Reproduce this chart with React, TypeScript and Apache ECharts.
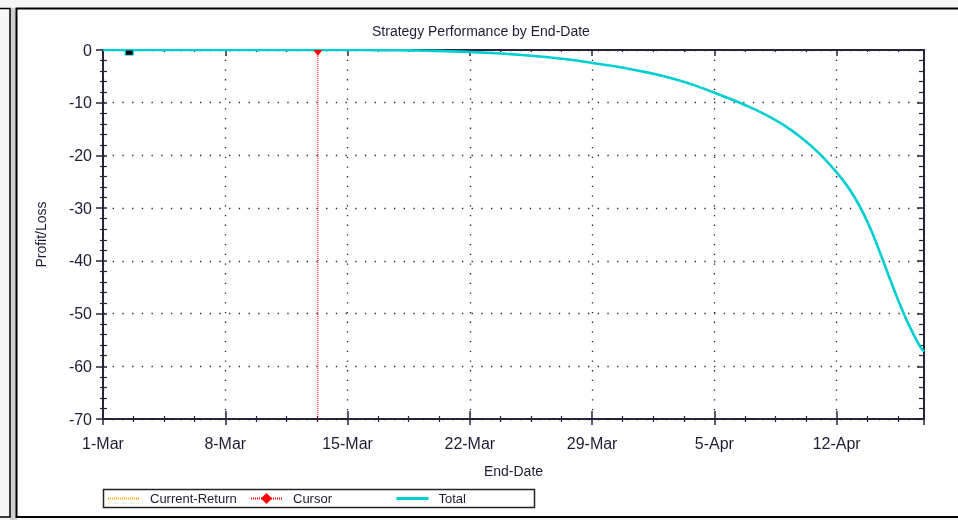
import React, { useEffect, useRef } from "react";
import * as echarts from "echarts";

// ---- data ----
const chartTitle = "Strategy Performance by End-Date";
const xTickLabels = ["1-Mar", "8-Mar", "15-Mar", "22-Mar", "29-Mar", "5-Apr", "12-Apr"];
// day offsets from 1-Mar
const totalDays = [0, 2, 4, 6, 8, 10, 12, 14, 15, 16, 17, 18, 19, 20, 21, 22, 23, 24, 25, 26, 27, 28, 29, 30, 31, 32, 33, 34, 35, 36, 37, 38, 39, 40, 41, 42, 42.5, 43, 43.5, 44, 44.5, 45, 45.5, 46, 46.5, 46.75, 47];
const totalValues = [0, 0, 0, 0, 0, 0, 0, 0, -0.01, -0.03, -0.06, -0.1, -0.17, -0.26, -0.38, -0.53, -0.72, -0.95, -1.22, -1.55, -1.95, -2.45, -2.95, -3.5, -4.15, -4.9, -5.8, -6.85, -8.1, -9.4, -10.8, -12.4, -14.3, -16.7, -19.6, -23.2, -25.3, -27.8, -30.8, -34.4, -38.6, -43.0, -47.3, -51.2, -54.6, -56.1, -57.2];
const cursorDay = [12.3, 12.3];
const cursorValues = [0, -70];
const currentReturnDays: number[] = [];
const currentReturnValues: number[] = [];
const markerDay = [1.5];
const markerValue = [-0.5];

const FONT = "'Liberation Sans', Arial, sans-serif";
const AX = "#24243a";
const TXT = "#1c1c34";

export default function App() {
  const ref = useRef<HTMLDivElement>(null);
  useEffect(() => {
    if (!ref.current) return;
    const chart = echarts.init(ref.current, null, { renderer: "svg" });
    const xBase = {
      type: "value",
      min: 0,
      max: 47,
      interval: 7,
      axisLine: { show: false, onZero: false, lineStyle: { color: AX, width: 2 } },
      axisLabel: { show: false },
      splitLine: { show: false },
      minorTick: { show: false, splitNumber: 4, lineStyle: { color: AX, width: 1.2 } },
      axisTick: { show: false, lineStyle: { color: AX, width: 1.5 } },
    };
    const yBase = {
      type: "value",
      min: -70,
      max: 0,
      interval: 10,
      axisLine: { show: false, onZero: false, lineStyle: { color: AX, width: 2 } },
      axisLabel: { show: false },
      splitLine: { show: false },
      minorTick: { show: false, splitNumber: 5, lineStyle: { color: AX, width: 1.2 } },
      axisTick: { show: false, lineStyle: { color: AX, width: 1.5 } },
    };
    const dotted = { color: "#222", width: 1.3, type: [1.3, 8.4] };
    const legendCommon = { top: 492, padding: 0, itemHeight: 14, textStyle: { fontSize: 13, color: TXT, padding: [0, 0, 0, 6] } };
    const option: any = {
      animation: false,
      textStyle: { fontFamily: FONT },
      title: {
        text: chartTitle,
        left: 367,
        top: 19,
        textStyle: { fontFamily: FONT, fontSize: 14, fontWeight: "normal", color: TXT },
      },
      grid: { left: 103, right: 34, top: 50, bottom: 101, containLabel: false },
      legend: [
        { ...legendCommon, data: ["Current-Return"], left: 107, itemWidth: 31, itemStyle: { opacity: 0 } },
        { ...legendCommon, data: ["Cursor"], left: 250, itemWidth: 31 },
        { ...legendCommon, data: ["Total"], left: 395, itemWidth: 32, itemStyle: { opacity: 0 }, lineStyle: { width: 3 }, textStyle: { fontSize: 13, color: TXT, padding: [0, 0, 0, 5] } },
      ],
      xAxis: [
        {
          ...xBase,
          position: "bottom",
          name: "End-Date",
          nameLocation: "middle",
          nameGap: 45,
          nameTextStyle: { fontSize: 14, color: TXT, fontFamily: FONT },
          axisLine: { show: true, onZero: false, lineStyle: { color: AX, width: 2 } },
          axisTick: { show: true, inside: false, length: 6, lineStyle: { color: AX, width: 1.5 } },
          minorTick: { show: true, splitNumber: 4, length: 3, lineStyle: { color: AX, width: 1.2 } },
          axisLabel: {
            show: true,
            fontSize: 16,
            color: TXT,
            margin: 16,
            showMaxLabel: false,
            formatter: (v: number) => (v % 7 === 0 ? xTickLabels[v / 7] ?? "" : ""),
          },
          splitLine: { show: true, lineStyle: dotted },
        },
        {
          ...xBase,
          position: "bottom",
          axisTick: { show: true, inside: true, length: 8, lineStyle: { color: AX, width: 1.5 } },
          minorTick: { show: true, splitNumber: 4, length: 3, lineStyle: { color: AX, width: 1.2 } },
        },
        {
          ...xBase,
          position: "top",
          axisLine: { show: true, onZero: false, lineStyle: { color: AX, width: 2 } },
          axisTick: { show: true, inside: true, length: 6, lineStyle: { color: AX, width: 1.5 } },
          minorTick: { show: true, splitNumber: 4, length: 2, lineStyle: { color: AX, width: 1.2 } },
        },
      ],
      yAxis: [
        {
          ...yBase,
          position: "left",
          name: "Profit/Loss",
          nameLocation: "middle",
          nameGap: 55,
          nameTextStyle: { fontSize: 14, color: TXT, fontFamily: FONT },
          axisLine: { show: true, onZero: false, lineStyle: { color: AX, width: 2 } },
          axisTick: { show: true, inside: false, length: 7, lineStyle: { color: AX, width: 1.5 } },
          minorTick: { show: true, splitNumber: 5, length: 3, lineStyle: { color: AX, width: 1.2 } },
          axisLabel: { show: true, fontSize: 16, color: TXT, margin: 11 },
          splitLine: { show: true, lineStyle: dotted },
        },
        {
          ...yBase,
          position: "left",
          axisTick: { show: true, inside: true, length: 4, lineStyle: { color: AX, width: 1.5 } },
          minorTick: { show: true, splitNumber: 5, length: 4, lineStyle: { color: AX, width: 1.2 } },
        },
        {
          ...yBase,
          position: "right",
          axisLine: { show: true, onZero: false, lineStyle: { color: AX, width: 2 } },
          axisTick: { show: true, inside: true, length: 7, lineStyle: { color: AX, width: 1.5 } },
          minorTick: { show: true, splitNumber: 5, length: 5, lineStyle: { color: AX, width: 1.2 } },
        },
      ],
      series: [
        {
          name: "Current-Return",
          type: "line",
          symbol: "none",
          data: currentReturnDays.map((d, i) => [d, currentReturnValues[i]]),
          lineStyle: { color: "#FFA500", width: 1, type: [1, 1] },
          itemStyle: { color: "#FFA500" },
        },
        {
          name: "Cursor",
          type: "line",
          symbol: "diamond",
          symbolSize: 10,
          data: cursorDay.map((d, i) =>
            i === 0
              ? { value: [d, cursorValues[i]], symbol: "triangle", symbolRotate: 180, symbolSize: [9, 6], symbolOffset: [0, 3] }
              : { value: [d, cursorValues[i]], symbol: "none" }
          ),
          lineStyle: { color: "#FF0000", width: 1, type: [1, 1] },
          itemStyle: { color: "#FF0000" },
          z: 4,
        },
        {
          name: "Total",
          type: "line",
          symbol: "none",
          smooth: 0.3,
          data: totalDays.map((d, i) => [d, totalValues[i]]),
          lineStyle: { color: "#00CED1", width: 2.6 },
          itemStyle: { color: "#00CED1" },
          z: 3,
        },
        {
          name: "marker",
          type: "line",
          symbol: "rect",
          symbolSize: [8, 5],
          data: markerDay.map((d, i) => [d, markerValue[i]]),
          lineStyle: { width: 0 },
          itemStyle: { color: "#000", borderColor: "#00CED1", borderWidth: 1 },
          z: 5,
        },
      ],
      graphic: [
        { type: "rect", z: -100, silent: true, shape: { x: 0, y: 0, width: 958, height: 520 }, style: { fill: "#f6f6f6" } },
        { type: "rect", z: -99, silent: true, shape: { x: 10, y: 8, width: 7, height: 512 }, style: { fill: "#cfcfcf" } },
        { type: "rect", z: -98, silent: true, shape: { x: -3, y: 8.5, width: 13, height: 508.5 }, style: { fill: "#f7f7f7", stroke: "#000", lineWidth: 1.5 } },
        { type: "rect", z: -98, silent: true, shape: { x: 16.5, y: 8.5, width: 950, height: 508.5 }, style: { fill: "#ffffff", stroke: "#000", lineWidth: 2 } },
        { type: "rect", z: -1, silent: true, shape: { x: 103.5, y: 489.5, width: 431, height: 18 }, style: { fill: "none", stroke: "#222", lineWidth: 1.5 } },
      ],
    };
    chart.setOption(option);
    return () => chart.dispose();
  }, []);
  return (
    <div
      ref={ref}
      style={{ position: "fixed", left: 0, top: 0, width: 958, height: 520 }}
    />
  );
}
